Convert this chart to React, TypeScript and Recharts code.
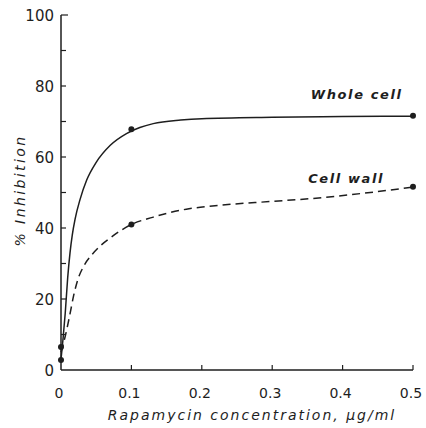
import React from 'react';
import { ComposedChart, Line, Scatter, XAxis, YAxis, ReferenceDot } from 'recharts';

// x axis: rapamycin concentration (ug/ml)
const xTicks = [0, 0.1, 0.2, 0.3, 0.4, 0.5];
const xTickLabels = ['0', '0.1', '0.2', '0.3', '0.4', '0.5'];
// y axis: % inhibition, minor ticks every 10
const yTicks = [0, 10, 20, 30, 40, 50, 60, 70, 80, 90, 100];
const yTickLabels = ['0', '', '20', '', '40', '', '60', '', '80', '', '100'];

// fitted curves
const wholeCurveConc = [0, 0.003, 0.006, 0.0095, 0.0128, 0.016, 0.02, 0.027, 0.0365, 0.05, 0.07, 0.093, 0.112, 0.131, 0.17, 0.2, 0.3, 0.4, 0.5];
const wholeCurveInh = [3, 9, 16, 26, 33, 38, 42.5, 48, 53.5, 58.5, 63.3, 66.6, 68.3, 69.4, 70.4, 70.8, 71.2, 71.4, 71.5];
const wallCurveConc = [0, 0.006, 0.013, 0.018, 0.024, 0.033, 0.044, 0.055, 0.07, 0.085, 0.1, 0.13, 0.178, 0.215, 0.3, 0.357, 0.43, 0.5];
const wallCurveInh = [5, 9.5, 16, 21, 25.5, 29.5, 32.5, 34.8, 37.2, 39.3, 41, 43, 45.3, 46.2, 47.5, 48.3, 49.8, 51.5];

// measured points
const wholeConc = [0, 0.1, 0.5];
const wholeInh = [6.5, 67.8, 71.6];
const wallConc = [0, 0.1, 0.5];
const wallInh = [2.8, 41, 51.6];

const zip = (xs: number[], ys: number[]) => xs.map((x, i) => ({ x, y: ys[i] }));
const wholeCurve = zip(wholeCurveConc, wholeCurveInh);
const wallCurve = zip(wallCurveConc, wallCurveInh);
const points = [...zip(wholeConc, wholeInh), ...zip(wallConc, wallInh)];

const INK = '#1e1e1e';
const FONT = '"DejaVu Sans", sans-serif';

const YTick = (props: any) => {
  const { x, y, payload, index } = props;
  const major = payload.value % 20 === 0;
  const len = payload.value === 100 ? 7 : 5;
  return (
    <g>
      {payload.value !== 0 && <line x1={x} x2={x + len} y1={y} y2={y} stroke={INK} strokeWidth={1.2} />}
      {major && (
        <text x={x - 7} y={y + 1} textAnchor="end" dominantBaseline="middle" fontFamily={FONT} fontSize={15} fill={INK}>
          {yTickLabels[index]}
        </text>
      )}
    </g>
  );
};

const XTick = (props: any) => {
  const { x, y, index } = props;
  return (
    <g>
      {index > 0 && <line x1={x} x2={x} y1={y} y2={y - 5} stroke={INK} strokeWidth={1.2} />}
      <text x={x - 2} y={y + 28} textAnchor="middle" fontFamily={FONT} fontSize={14} fill={INK}>
        {xTickLabels[index]}
      </text>
    </g>
  );
};

const seriesLabel = (text: string) => ({
  value: text,
  position: 'center' as const,
  fontFamily: FONT,
  fontSize: 13,
  fontWeight: 'bold',
  fontStyle: 'italic',
  letterSpacing: 1.6,
  fill: INK,
});

export default function App() {
  return (
    <div style={{ position: 'absolute', left: 0, top: 0, background: '#fff' }}>
      <ComposedChart width={426} height={428} margin={{ top: 15, right: 13, left: 0, bottom: 0 }}>
        <XAxis
          type="number"
          dataKey="x"
          domain={[0, 0.5]}
          ticks={xTicks}
          interval={0}
          height={58}
          tickSize={0}
          tickMargin={0}
          tickLine={false}
          axisLine={{ stroke: INK, strokeWidth: 1.5 }}
          tick={<XTick />}
          label={{
            content: ({ viewBox }: any) => (
              <text
                x={viewBox.x + viewBox.width / 2 + 15}
                y={viewBox.y + 50}
                textAnchor="middle"
                fontFamily={FONT}
                fontSize={14}
                fontStyle="italic"
                letterSpacing={2}
                fill={INK}
              >
                Rapamycin concentration, μg/ml
              </text>
            ),
          }}
        />
        <YAxis
          type="number"
          dataKey="y"
          domain={[0, 100]}
          ticks={yTicks}
          interval={0}
          width={61}
          tickSize={0}
          tickMargin={0}
          tickLine={false}
          axisLine={{ stroke: INK, strokeWidth: 1.5 }}
          tick={<YTick />}
          label={{
            content: ({ viewBox }: any) => {
              const cx = 21;
              const cy = viewBox.y + viewBox.height / 2 - 2;
              return (
                <text
                  x={cx}
                  y={cy}
                  transform={`rotate(-90 ${cx} ${cy})`}
                  textAnchor="middle"
                  dominantBaseline="middle"
                  fontFamily={FONT}
                  fontSize={14}
                  fontStyle="italic"
                  letterSpacing={2.4}
                  fill={INK}
                >
                  % Inhibition
                </text>
              );
            },
          }}
        />
        <Line
          data={wholeCurve}
          dataKey="y"
          type="monotone"
          stroke={INK}
          strokeWidth={1.5}
          dot={false}
          isAnimationActive={false}
        />
        <Line
          data={wallCurve}
          dataKey="y"
          type="monotone"
          stroke={INK}
          strokeWidth={1.5}
          strokeDasharray="8 5"
          dot={false}
          isAnimationActive={false}
        />
        <Scatter
          data={points}
          dataKey="y"
          fill={INK}
          isAnimationActive={false}
          shape={(p: any) => <circle cx={p.cx} cy={p.cy} r={3} fill={INK} />}
        />
        <ReferenceDot x={0.42} y={77.7} r={0} stroke="none" label={seriesLabel('Whole cell')} />
        <ReferenceDot x={0.405} y={54} r={0} stroke="none" label={seriesLabel('Cell wall')} />
      </ComposedChart>
    </div>
  );
}
